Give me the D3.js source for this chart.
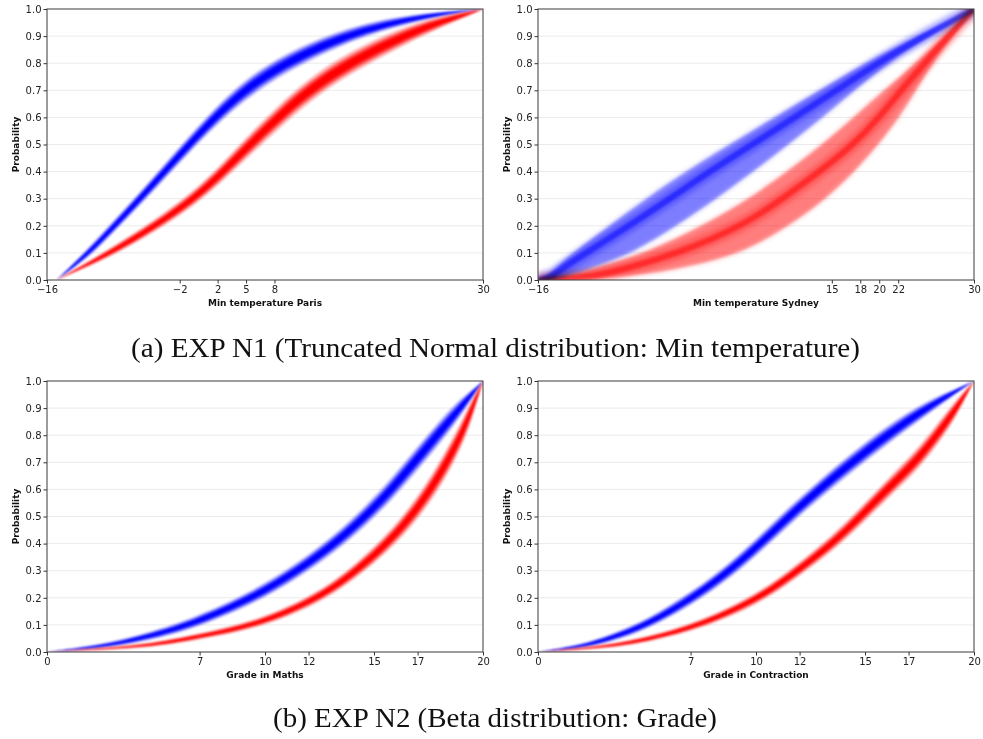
<!DOCTYPE html>
<html>
<head>
<meta charset="utf-8">
<script src="https://cdn.jsdelivr.net/npm/d3@7"></script>
<style>
  body { margin: 0; background: #fff; }
  .tick text { font-family: "DejaVu Sans", sans-serif; font-size: 10px; fill: #222; }
  .tick line { stroke: #333; }
  .axis-label { font-family: "DejaVu Sans", sans-serif; font-size: 9px; font-weight: bold; fill: #111; }
  .caption { font-family: "Liberation Serif", "Times New Roman", serif; font-size: 27px; fill: #111; }
</style>
</head>
<body>
<div id="chart-area"></div>
<script>
// curves are stored as the x value where each probability level is reached
var probTicks = [0, 0.1, 0.2, 0.3, 0.4, 0.5, 0.6, 0.7, 0.8, 0.9, 1.0];

var parisLevels = [0, 0.1, 0.2, 0.3, 0.4, 0.5, 0.6, 0.7, 0.8, 0.9, 0.95, 0.98, 1.0];
var parisBlue = [-15, -11.6, -8.9, -6.2, -3.6, -1.0, 1.7, 4.8, 9.0, 15.3, 20.5, 25, 30];
var parisBlueSpread = [0, 0.019, 0.022, 0.025, 0.028, 0.031, 0.035, 0.038, 0.036, 0.028, 0.019, 0.01, 0];
var parisRed = [-15, -9.3, -4.6, -0.5, 2.6, 5.4, 8.4, 11.6, 15.8, 21.6, 25.3, 28.2, 30];
var parisRedSpread = [0, 0.017, 0.022, 0.028, 0.034, 0.04, 0.044, 0.044, 0.042, 0.034, 0.022, 0.011, 0];
var parisTicks = [-16, -2, 2, 5, 8, 30];

var sydneyLevels = [0, 0.01, 0.05, 0.1, 0.2, 0.3, 0.4, 0.5, 0.6, 0.7, 0.8, 0.9, 1.0];
var sydneyBlueMid = [-16, -14.5, -13.2, -10.9, -6.4, -2.1, 2.1, 6.6, 11.1, 15.5, 19.8, 24.7, 30];
var sydneyBlueHigh = [-16, -15.3, -14.0, -12.3, -8.5, -4.6, -0.4, 4.2, 8.9, 13.7, 18.5, 24.0, 30];
var sydneyBlueLow = [-16, -13, -10, -6.0, -1.4, 2.8, 6.7, 10.4, 14.0, 17.4, 20.9, 25.3, 30];
var sydneyRedMid = [-16, -10, -6, -1.1, 5.6, 9.8, 13.7, 17.3, 20.0, 22.3, 24.8, 27.3, 30];
var sydneyRedHigh = [-16, -13, -9.5, -4.6, 1.4, 6.3, 10.3, 14.0, 17.3, 20.5, 23.9, 26.9, 30];
var sydneyRedLow = [-16, -6, 0, 5.6, 10.5, 14.4, 17.4, 19.9, 22.1, 23.9, 25.6, 27.8, 30];
var sydneyTicks = [-16, 15, 18, 20, 22, 30];

var gradeLevels = [0, 0.02, 0.05, 0.1, 0.2, 0.3, 0.4, 0.5, 0.6, 0.7, 0.8, 0.9, 1.0];
var mathsBlue = [0, 2.5, 4.3, 6.6, 9.45, 11.5, 13.2, 14.6, 15.8, 16.85, 17.9, 18.95, 20];
var mathsBlueSpread = [0, 0.008, 0.014, 0.02, 0.025, 0.029, 0.033, 0.037, 0.041, 0.044, 0.044, 0.036, 0];
var mathsRed = [0, 4.5, 6.5, 9.7, 12.5, 14.2, 15.6, 16.7, 17.6, 18.35, 19.0, 19.52, 20];
var mathsRedSpread = [0, 0.007, 0.011, 0.015, 0.021, 0.027, 0.033, 0.04, 0.046, 0.05, 0.048, 0.038, 0];
var contractionBlue = [0, 2.0, 3.3, 5.0, 7.1, 8.8, 10.2, 11.5, 12.9, 14.4, 16.0, 17.8, 20];
var contractionBlueSpread = [0, 0.008, 0.014, 0.019, 0.025, 0.029, 0.032, 0.034, 0.035, 0.036, 0.035, 0.028, 0];
var contractionRed = [0, 3.3, 5.2, 7.5, 10.2, 11.9, 13.5, 14.8, 16.0, 17.3, 18.3, 19.2, 20];
var contractionRedSpread = [0, 0.007, 0.011, 0.015, 0.021, 0.025, 0.029, 0.033, 0.036, 0.039, 0.039, 0.034, 0];
var gradeTicks = [0, 7, 10, 12, 15, 17, 20];

var width = 436;
var height = 271;
var panelCount = 0;

var svg = d3.select("#chart-area")
    .append("svg")
        .attr("width", 983)
        .attr("height", 739);

var defs = svg.append("defs");
defs.append("filter").attr("id", "soft")
    .attr("x", "-5%").attr("y", "-5%").attr("width", "110%").attr("height", "110%")
    .append("feGaussianBlur").attr("stdDeviation", 1.0);
defs.append("filter").attr("id", "softer")
    .attr("x", "-5%").attr("y", "-5%").attr("width", "110%").attr("height", "110%")
    .append("feGaussianBlur").attr("stdDeviation", 2.5);

function makePanel(left, top, xDomain, xTicks, xLabel) {
    panelCount++;
    var clipId = "clip" + panelCount;
    defs.append("clipPath").attr("id", clipId)
        .append("rect").attr("width", width).attr("height", height);

    var g = svg.append("g")
        .attr("transform", "translate(" + left + ", " + top + ")");

    var x = d3.scaleLinear().domain(xDomain).range([0, width]);
    var y = d3.scaleLinear().domain([0, 1]).range([height, 0]);

    g.selectAll("line.grid")
        .data(probTicks.slice(1, -1))
        .enter().append("line")
            .attr("class", "grid")
            .attr("x1", 0).attr("x2", width)
            .attr("y1", (d) => y(d)).attr("y2", (d) => y(d))
            .attr("stroke", "#ebebeb")
            .attr("stroke-width", 1);

    var marks = g.append("g").attr("clip-path", "url(#" + clipId + ")");

    g.append("g")
        .attr("transform", "translate(0, " + height + ")")
        .call(d3.axisBottom(x).tickValues(xTicks).tickFormat(d3.format("d")).tickSize(3.5).tickPadding(2))
        .call((a) => a.select(".domain").remove());
    g.append("g")
        .call(d3.axisLeft(y).tickValues(probTicks).tickFormat(d3.format(".1f")).tickSize(3.5).tickPadding(2))
        .call((a) => a.select(".domain").remove());
    g.append("rect")
        .attr("width", width).attr("height", height)
        .attr("fill", "none")
        .attr("stroke", "#3a3a3a")
        .attr("stroke-width", 1);

    g.append("text")
        .attr("class", "axis-label")
        .attr("x", width / 2)
        .attr("y", height + 26)
        .attr("text-anchor", "middle")
        .text(xLabel);

    g.append("text")
        .attr("class", "axis-label")
        .attr("x", -height / 2)
        .attr("y", -28)
        .attr("text-anchor", "middle")
        .attr("transform", "rotate(-90)")
        .text("Probability");

    return {marks: marks, x: x, y: y};
}

// a tight bundle of curves around one centre line
function bundle(p, levels, xs, spread, color) {
    var b = p.marks.append("g").attr("filter", "url(#soft)");
    [[1.0, 0.3], [0.7, 0.6], [0.4, 1]].forEach((s) => {
        var area = d3.area()
            .x((d, i) => p.x(xs[i]))
            .y0((d, i) => p.y(d - spread[i] * s[0]))
            .y1((d, i) => p.y(d + spread[i] * s[0]))
            .curve(d3.curveBasis);
        b.append("path")
            .attr("d", area(levels))
            .attr("fill", color)
            .attr("fill-opacity", s[1]);
    });
}

// a wide fan of curves between two edges
function fan(p, levels, hi, mid, lo, color) {
    var area = d3.area()
        .y((d) => p.y(d))
        .x0((d, i) => p.x(hi[i]))
        .x1((d, i) => p.x(lo[i]))
        .curve(d3.curveBasis);
    var line = d3.line()
        .x((d, i) => p.x(mid[i]))
        .y((d) => p.y(d))
        .curve(d3.curveBasis);
    var f = p.marks.append("g").style("mix-blend-mode", "multiply");
    f.append("path")
        .attr("d", area(levels))
        .attr("fill", color)
        .attr("fill-opacity", 0.34)
        .attr("filter", "url(#softer)");
    f.append("path")
        .attr("d", area(levels))
        .attr("fill", color)
        .attr("fill-opacity", 0.26)
        .attr("filter", "url(#soft)");
    f.append("path")
        .attr("d", line(levels))
        .attr("fill", "none")
        .attr("stroke", color)
        .attr("stroke-width", 14)
        .attr("stroke-opacity", 0.3)
        .attr("filter", "url(#softer)");
    f.append("path")
        .attr("d", line(levels))
        .attr("fill", "none")
        .attr("stroke", color)
        .attr("stroke-width", 6)
        .attr("stroke-opacity", 0.5)
        .attr("filter", "url(#soft)");
}

var paris = makePanel(47, 9, [-16, 30], parisTicks, "Min temperature Paris");
bundle(paris, parisLevels, parisBlue, parisBlueSpread, "#0000ff");
bundle(paris, parisLevels, parisRed, parisRedSpread, "#ff0000");

var sydney = makePanel(538, 9, [-16, 30], sydneyTicks, "Min temperature Sydney");
fan(sydney, sydneyLevels, sydneyBlueHigh, sydneyBlueMid, sydneyBlueLow, "#0000ff");
fan(sydney, sydneyLevels, sydneyRedHigh, sydneyRedMid, sydneyRedLow, "#ff0000");

var maths = makePanel(47, 381, [0, 20], gradeTicks, "Grade in Maths");
bundle(maths, gradeLevels, mathsBlue, mathsBlueSpread, "#0000ff");
bundle(maths, gradeLevels, mathsRed, mathsRedSpread, "#ff0000");

var contraction = makePanel(538, 381, [0, 20], gradeTicks, "Grade in Contraction");
bundle(contraction, gradeLevels, contractionBlue, contractionBlueSpread, "#0000ff");
bundle(contraction, gradeLevels, contractionRed, contractionRedSpread, "#ff0000");

svg.append("text")
    .attr("class", "caption")
    .attr("x", 131).attr("y", 357)
    .attr("textLength", 729)
    .attr("lengthAdjust", "spacingAndGlyphs")
    .text("(a) EXP N1 (Truncated Normal distribution: Min temperature)");

svg.append("text")
    .attr("class", "caption")
    .attr("x", 273).attr("y", 727)
    .attr("textLength", 444)
    .attr("lengthAdjust", "spacingAndGlyphs")
    .text("(b) EXP N2 (Beta distribution: Grade)");
</script>
</body>
</html>
